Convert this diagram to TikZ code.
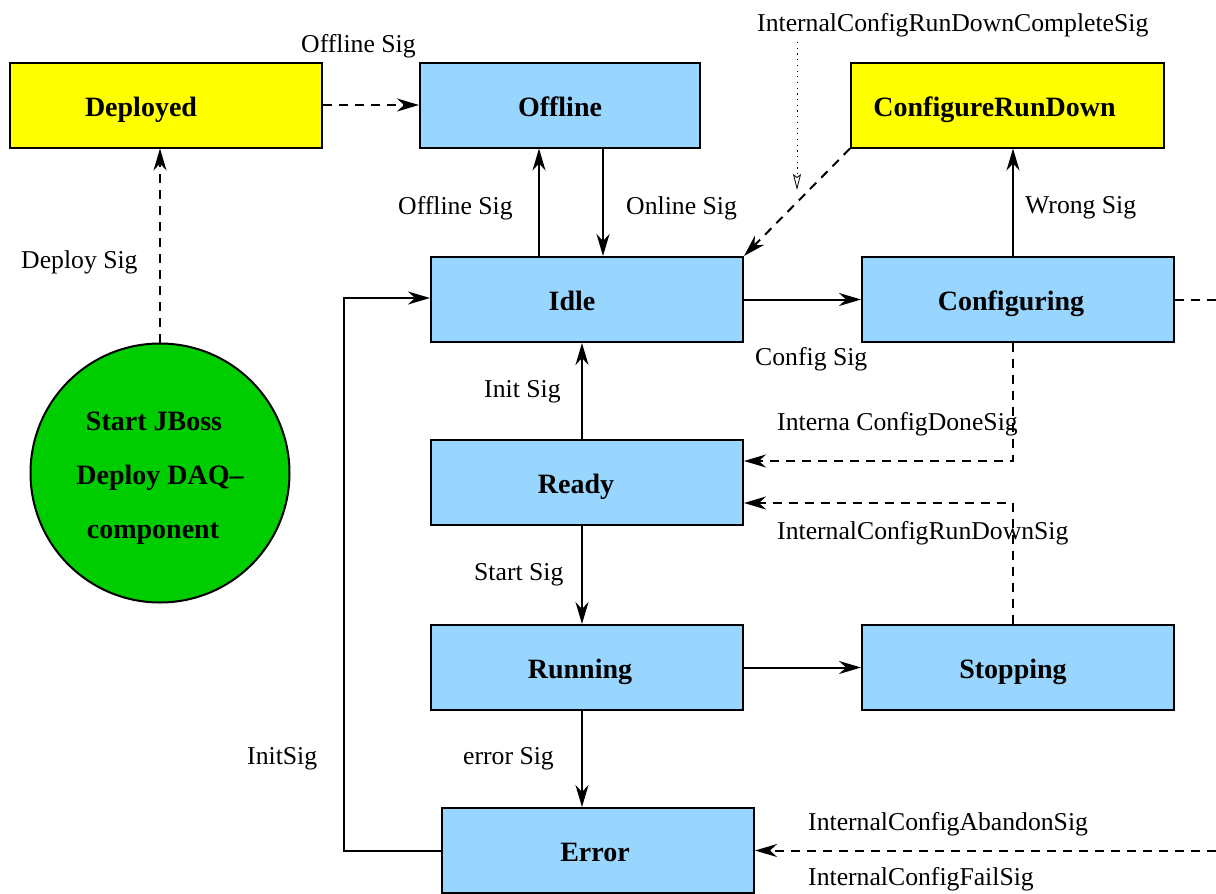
\documentclass[tikz,border=0pt]{standalone}
\usepackage{fontspec}
\setmainfont{Liberation Serif}
\usetikzlibrary{arrows.meta}
\definecolor{yel}{RGB}{255,255,0}
\definecolor{lb}{RGB}{153,214,255}
\definecolor{grn}{RGB}{0,205,0}
\newcommand\lft[2]{#2\hspace*{#1}}
\begin{document}
\begin{tikzpicture}[x=1pt,y=-1pt,
  box/.style={draw,line width=2pt,minimum width=312pt,minimum height=85pt,inner sep=0pt,
    text height=22pt,text depth=0pt,
    font=\fontsize{28}{34}\selectfont\bfseries,fill=lb},
  lbl/.style={font=\fontsize{25.7}{30}\selectfont,anchor=west,inner sep=0pt,yshift=-3pt},
  con/.style={line width=2pt},
  arr/.style={con,-{Stealth[length=22pt,width=13pt,inset=7pt]}},
  dsh/.style={dash pattern=on 9pt off 7pt}]
\useasboundingbox (0,0) rectangle (1216,894);

% boxes
\node[box,fill=yel] (dep) at (166,105) {\lft{50pt}{Deployed}};
\node[box,minimum width=280pt] (off) at (560,105) {Offline};
\node[box,fill=yel,minimum width=313pt] (crd) at (1007.5,105) {\lft{26pt}{ConfigureRunDown}};
\node[box] (idle) at (587,299.5) {\lft{30pt}{Idle}};
\node[box] (cfg) at (1018,299.5) {\lft{14pt}{Configuring}};
\node[box] (rdy) at (587,482.5) {\lft{22pt}{Ready}};
\node[box] (run) at (587,667.5) {\lft{14pt}{Running}};
\node[box] (stp) at (1018,667.5) {\lft{10pt}{Stopping}};
\node[box] (err) at (598,850.5) {\lft{6pt}{Error}};
\node[draw,line width=2pt,circle,fill=grn,minimum size=259pt,inner sep=0pt,align=center,
  font=\fontsize{28}{54}\selectfont\bfseries] (jb) at (160,473)
  {\rule{0pt}{28pt}Start JBoss\hspace*{12pt}\\Deploy DAQ--\hspace*{4pt}\\component\hspace*{14pt}};

% labels
\node[lbl] (l1) at (301,43) {Offline Sig};
\node[lbl] (l2) at (398,205) {Offline Sig};
\node[lbl] (l3) at (626,205) {Online Sig};
\node[lbl] (l4) at (21,259) {Deploy Sig};
\node[lbl] (l5) at (1025,205) {Wrong Sig};
\node[lbl] (l6) at (755,356) {Config Sig};
\node[lbl] (l7) at (484,389) {Init Sig};
\node[lbl] (l8) at (777,421) {Interna ConfigDoneSig};
\node[lbl] (l9) at (777,530) {InternalConfigRunDownSig};
\node[lbl] (l10) at (474,572) {Start Sig};
\node[lbl] (l11) at (463,756) {error Sig};
\node[lbl] (l12) at (247,756) {InitSig};
\node[lbl] (l13) at (808,821) {InternalConfigAbandonSig};
\node[lbl] (l14) at (808,876) {InternalConfigFailSig};
\node[lbl] (l15) at (757,22) {InternalConfigRunDownCompleteSig};

% coordinates
\coordinate (dtop) at (797,42);
\coordinate (dend) at (797,190);
\coordinate (redge) at (1216,299.5);
\coordinate (redge2) at (1216,850.5);
\coordinate (lp) at (344,850.5);

% connectors
\draw[arr,dsh] (dep.east) -- (off.west);
\draw[arr,dsh] (jb.north) -- (jb.north |- dep.south);
\draw[arr] ([xshift=-48pt]idle.north) -- ([xshift=-48pt]idle.north |- off.south);
\draw[arr] ([xshift=43pt]off.south) -- ([xshift=43pt]off.south |- idle.north);
\draw[arr,dsh] (crd.south west) -- (idle.north east);
\draw[line width=0.8pt,dash pattern=on 1.2pt off 4.5pt,-{Stealth[open,length=16pt,width=8pt,inset=3pt]}] (dtop) -- (dend);
\draw[arr] ([xshift=-5pt]cfg.north) -- ([xshift=-5pt]cfg.north |- crd.south);
\draw[arr] (idle.east) -- (cfg.west);
\draw[con,dsh] (cfg.east) -- (redge);
\draw[arr,dsh] ([xshift=-5pt]cfg.south) |- ([yshift=21.5pt]rdy.east);
\draw[arr,dsh] ([xshift=-5pt]stp.north) |- ([yshift=-20.5pt]rdy.east);
\draw[arr] ([xshift=-5pt]rdy.north) -- ([xshift=-5pt]rdy.north |- idle.south);
\draw[arr] ([xshift=-5pt]rdy.south) -- ([xshift=-5pt]rdy.south |- run.north);
\draw[arr] (run.east) -- (stp.west);
\draw[arr] ([xshift=-5pt]run.south) -- ([xshift=-5pt]run.south |- err.north);
\draw[arr] (err.west) -- (lp) |- ([yshift=1.5pt]idle.west);
\draw[arr,dsh] (redge2) -- (err.east);
\end{tikzpicture}
\end{document}
